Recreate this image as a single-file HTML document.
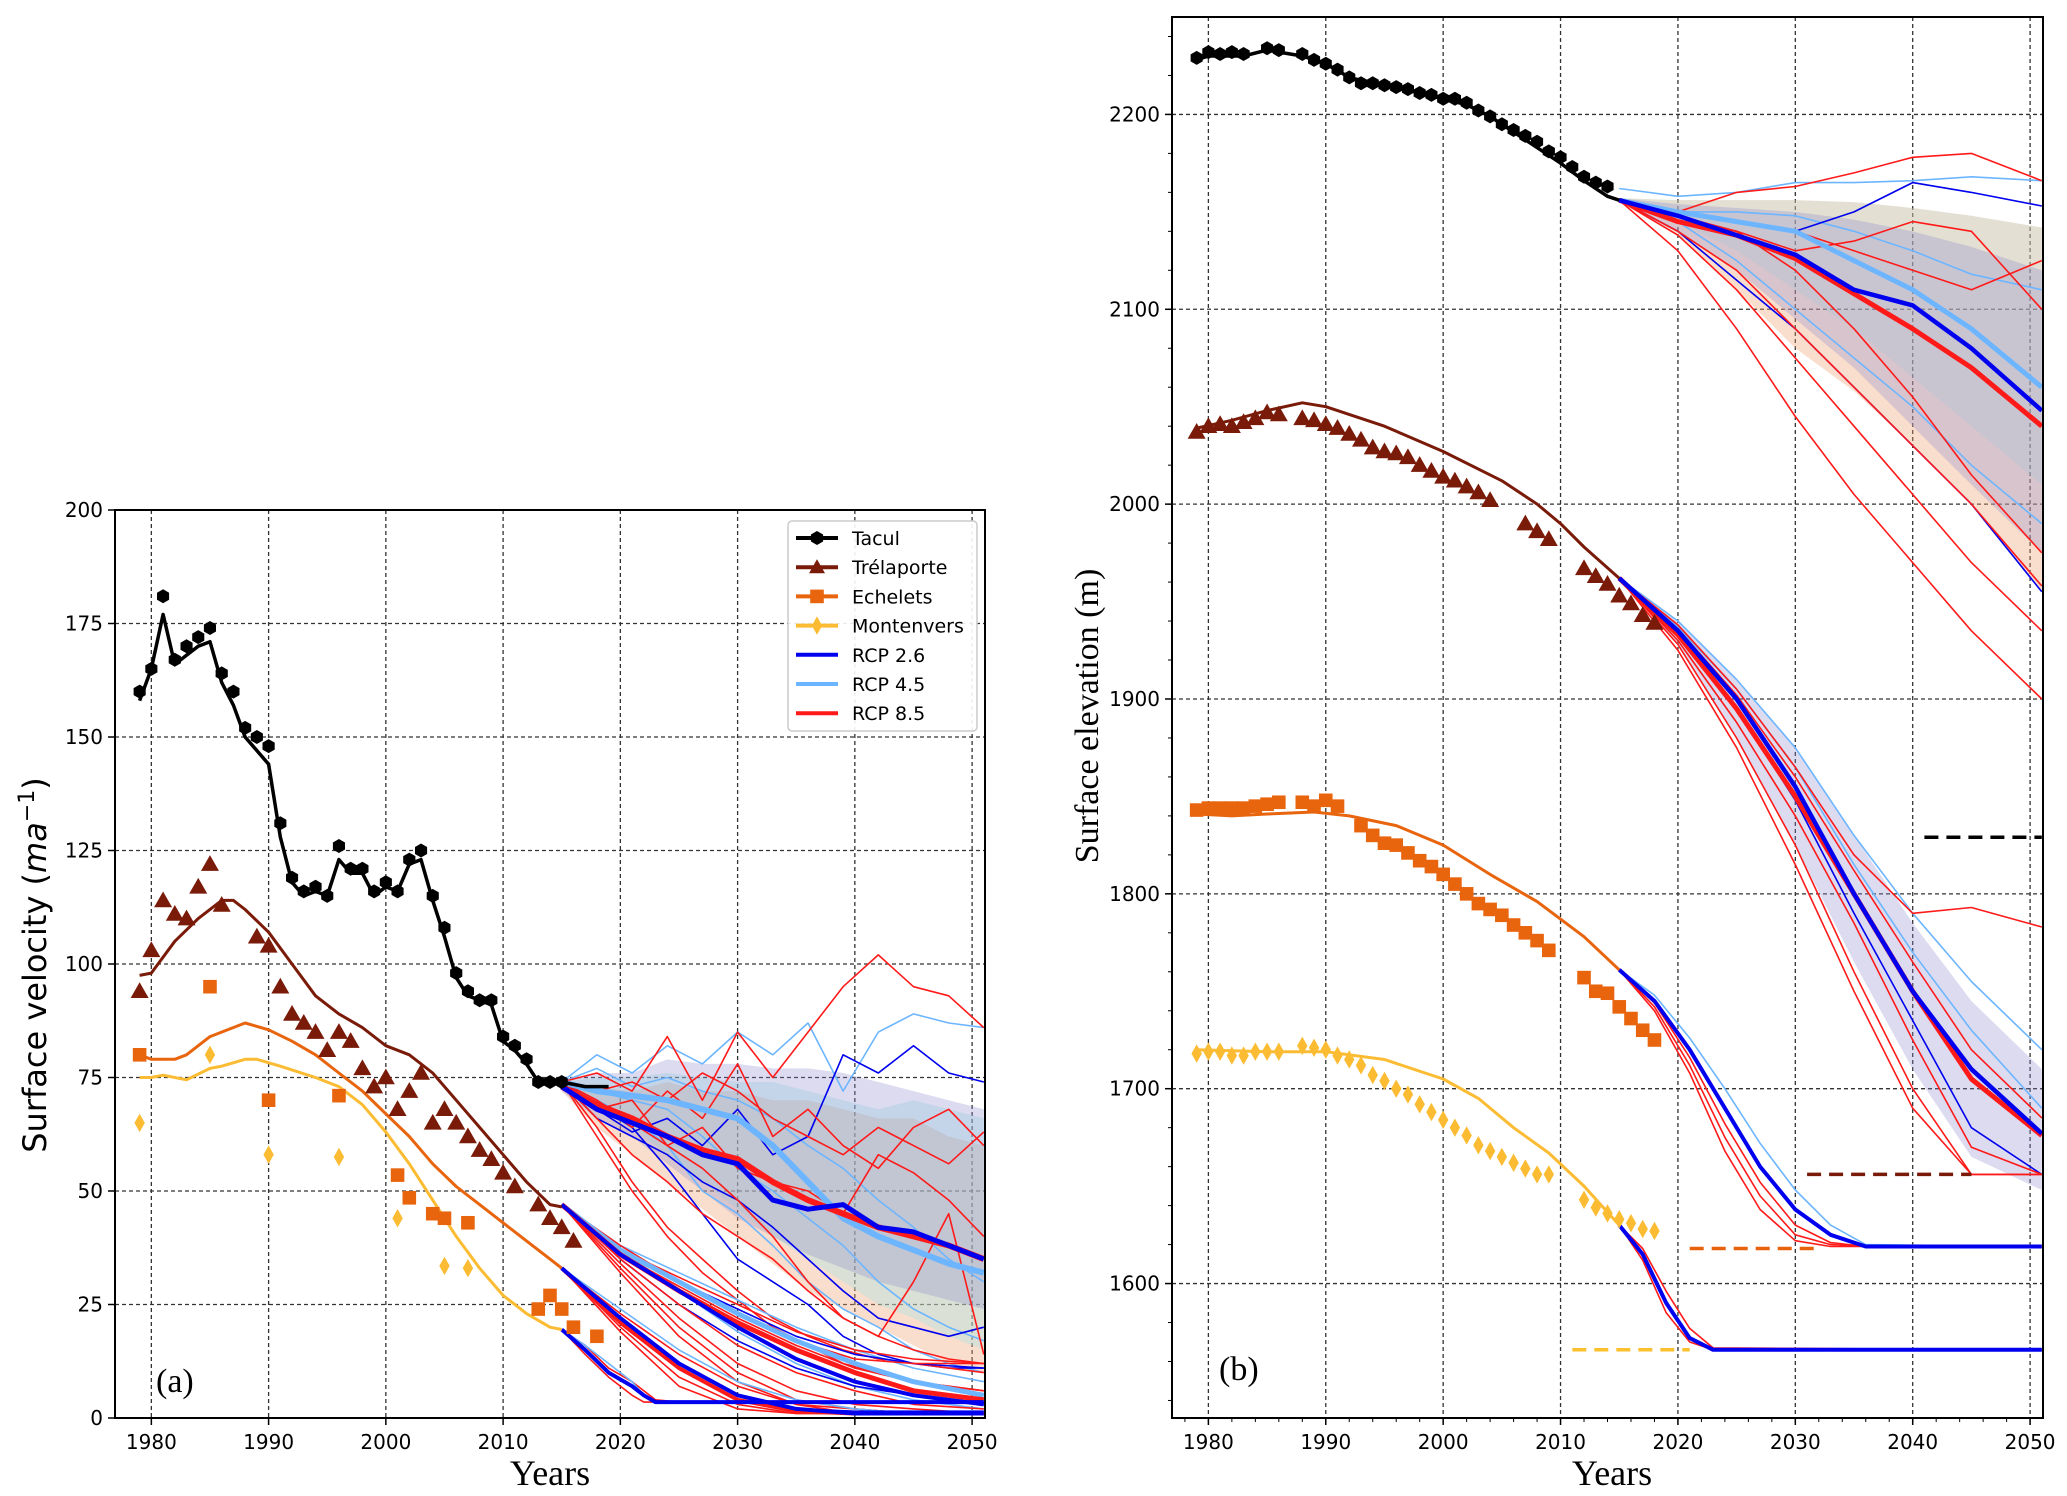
<!DOCTYPE html>
<html><head><meta charset="utf-8"><style>
body{margin:0;background:#fff}
svg{display:block}
text{font-family:"DejaVu Sans","Liberation Sans",sans-serif}
text.serif{font-family:"Liberation Serif","DejaVu Serif",serif}
</style></head><body>
<svg id="fig" width="2067" height="1496" viewBox="0 0 2067 1496" xmlns="http://www.w3.org/2000/svg">
<rect width="2067" height="1496" fill="#fff"/>
<g id="pa"></g>
<g id="pb"></g>
</svg>
<script>
// ---------- Panel A data (surface velocity, m/a) ----------
const xTicks=[1980,1990,2000,2010,2020,2030,2040,2050];
const aYTicks=[0,25,50,75,100,125,150,175,200];
const bYTicks=[1600,1700,1800,1900,2000,2100,2200];

const tacObsYearsA=[1979,1980,1981,1982,1983,1984,1985,1986,1987,1988,1989,1990,1991,1992,1993,1994,1995,1996,1997,1998,1999,2000,2001,2002,2003,2004,2005,2006,2007,2008,2009,2010,2011,2012,2013,2014,2015];
const tacObsA=[160,165,181,167,170,172,174,164,160,152,150,148,131,119,116,117,115,126,121,121,116,118,116,123,125,115,108,98,94,92,92,84,82,79,74,74,74];
const tacModYearsA=[1979,1980,1981,1982,1983,1984,1985,1986,1987,1988,1989,1990,1991,1992,1993,1994,1995,1996,1997,1998,1999,2000,2001,2002,2003,2004,2005,2006,2007,2008,2009,2010,2011,2012,2013,2014,2015,2017,2019];
const tacModA=[158,165,177,166,168,170,171,162,157,150,147,144,128,118,115,116,115,123,120,120,115,117,116,122,123,114,106,97,93,92,91,83,81,78,74,74,74,73,73];
const treObsYearsA=[1979,1980,1981,1982,1983,1984,1985,1986,1989,1990,1991,1992,1993,1994,1995,1996,1997,1998,1999,2000,2001,2002,2003,2004,2005,2006,2007,2008,2009,2010,2011,2013,2014,2015,2016];
const treObsA=[94,103,114,111,110,117,122,113,106,104,95,89,87,85,81,85,83,77,73,75,68,72,76,65,68,65,62,59,57,54,51,47,44,42,39];
const treModYearsA=[1979,1980,1982,1984,1986,1987,1988,1990,1992,1994,1996,1998,2000,2002,2004,2006,2008,2010,2012,2014,2015];
const treModA=[97.5,98,105,110,114,114,112,107,100,93,89,86,82,80,76,70,64,58,52,47,46.5];
const echObsYearsA=[1979,1985,1990,1996,2001,2002,2004,2005,2007,2013,2014,2015,2016,2018];
const echObsA=[80,95,70,71,53.5,48.5,45,44,43,24,27,24,20,18];
const echModYearsA=[1979,1980,1982,1983,1985,1988,1990,1992,1994,1996,1998,2000,2002,2004,2006,2008,2010,2012,2014,2015];
const echModA=[80,79,79,80,84,87,85.5,83,80,76,72,67,62,56,51,47,43,39,35,33];
const monObsYearsA=[1979,1985,1990,1996,2001,2005,2007];
const monObsA=[65,80,58,57.5,44,33.5,33];
const monModYearsA=[1979,1980,1981,1983,1985,1986,1988,1989,1991,1994,1996,1998,2000,2002,2004,2006,2008,2010,2012,2014,2015];
const monModA=[75,75,75.5,74.5,77,77.5,79,79,77.5,75,73,69,63,56,48,40,33,27,23,20,19.5];

// projections panel A
const T3=[2015,2018,2021,2024,2027,2030,2033,2036,2039,2042,2045,2048,2051];
const tacA26=[73,68,65,62,58,56,48,46,47,42,41,38,35];
const tacA45=[74,72,71,70,68,66,60,52,44,40,37,34,32];
const tacA85=[73,69,66,62,59,57,52,48,45,42,40,38,35];
const tacA26Hi=[74,76,76,79,78,78,77,77,76,74,72,70,68];
const tacA26Lo=[72,66,62,56,50,44,40,36,33,30,28,26,24];
const tacA85Hi=[74,73,72,74,72,72,70,70,68,66,66,62,60];
const tacA85Lo=[72,64,58,52,46,40,34,28,24,20,16,12,10];
const tacA45Hi=[74,75,75,76,75,74,74,72,70,68,70,68,66];
const tacA45Lo=[73,68,64,58,52,46,40,35,30,25,22,18,15];
const tacAMem=[
 ['lb',[74,80,76,82,78,85,80,87,72,85,89,87,86]],
 ['lb',[74,77,73,75,72,70,66,60,55,48,42,35,30]],
 ['lb',[74,72,70,68,62,55,50,44,38,30,24,20,17]],
 ['lb',[74,70,66,60,50,45,38,30,24,20,15,12,10]],
 ['b',[74,68,63,66,60,68,58,62,80,76,82,76,74]],
 ['b',[74,66,62,58,52,48,42,35,28,22,20,18,20]],
 ['b',[74,69,64,55,45,35,30,25,18,14,12,11,11]],
 ['r',[74,76,72,84,70,85,75,85,95,102,95,93,86]],
 ['r',[74,70,64,72,66,78,62,68,60,55,64,68,60]],
 ['r',[74,68,70,60,64,55,52,50,45,58,54,48,40]],
 ['r',[74,66,58,52,45,40,35,28,22,18,15,13,12]],
 ['r',[74,64,52,42,35,28,22,18,15,13,12,11,10]],
 ['r',[74,70,65,60,55,48,40,30,22,18,30,45,14]],
 ['r',[74,62,50,40,32,26,20,16,12,10,8,7,6]],
 ['r',[74,72,74,70,76,72,66,62,58,64,60,56,63]]
];
const Y5=[2015,2020,2025,2030,2035,2040,2045,2051];
const treA26=[47,36,28,20,13,8,5,3];
const treA45=[47,37,30,23,17,12,8,5];
const treA85=[47,36,28,21,15,10,6,4];
const treAMem=[
 ['lb',[47,38,32,26,20,15,11,8]],['lb',[47,37,28,19,12,7,4,2]],
 ['b',[47,35,25,17,11,7,5,3]],['b',[47,37,30,24,18,14,12,11]],
 ['r',[47,33,20,10,4,2,1,1]],['r',[47,35,25,16,10,6,3,2]],['r',[47,38,30,23,17,13,12,12]],
 ['r',[47,34,22,12,6,3,2,1]],['r',[47,36,29,22,16,11,8,6]],['r',[47,32,18,8,3,1,1,1]],['r',[47,37,31,25,19,15,13,12]]
];
const echA26=[33,22,12,5,2,1,1,1];
const echA85=[33,21,11,4,1.5,1,1,1];
const echAMem=[['r',[33,19,7,2,1,1,1,1]],['r',[33,23,14,7,3,2,1,1]],['lb',[33,24,15,8,4,2,1,1]],['b',[33,22,11,4,2,1.5,1.5,1.5]],['r',[33,20,9,3,1,1,1,1]]];
const monYearsP=[2015,2017,2019,2021,2022,2023,2025,2051];
const monA26=[19.5,15,10,7,5,3.5,3.5,3.5];
const monAMem=[['r',[19.5,14,9,5,3.5,3.5,3.5,3.5]],['r',[19.5,16,11,8,6,4,3.5,3.5]],['lb',[19.5,16,12,8,5,3.5,3.5,3.5]]];

// ---------- Panel B data (surface elevation, m) ----------
const tacObsYearsB=[1979,1980,1981,1982,1983,1985,1986,1988,1989,1990,1991,1992,1993,1994,1995,1996,1997,1998,1999,2000,2001,2002,2003,2004,2005,2006,2007,2008,2009,2010,2011,2012,2013,2014];
const tacObsB=[2229,2232,2231,2232,2231,2234,2233,2231,2228,2226,2223,2219,2216,2216,2215,2214,2213,2211,2210,2208,2208,2206,2202,2199,2195,2192,2189,2186,2181,2178,2173,2168,2165,2163];
const tacModYearsB=[1979,1980,1983,1985,1986,1988,1990,1992,1994,1996,1998,2000,2002,2004,2006,2008,2010,2012,2014,2015];
const tacModB=[2228,2230,2230,2233,2232,2230,2226,2219,2216,2214,2211,2208,2205,2199,2191,2183,2175,2166,2158,2156];
const treObsYearsB=[1979,1980,1981,1982,1983,1984,1985,1986,1988,1989,1990,1991,1992,1993,1994,1995,1996,1997,1998,1999,2000,2001,2002,2003,2004,2007,2008,2009,2012,2013,2014,2015,2016,2017,2018];
const treObsB=[2037,2040,2041,2040,2042,2044,2047,2046,2044,2043,2041,2039,2036,2033,2029,2027,2026,2024,2020,2017,2014,2012,2009,2006,2002,1990,1986,1982,1967,1963,1959,1953,1949,1943,1939];
const treModYearsB=[1979,1982,1985,1988,1990,1995,2000,2005,2008,2010,2012,2015];
const treModB=[2039,2043,2048,2052,2050,2040,2027,2012,2000,1990,1978,1962];
const echObsYearsB=[1979,1980,1981,1982,1983,1984,1985,1986,1988,1989,1990,1991,1993,1994,1995,1996,1997,1998,1999,2000,2001,2002,2003,2004,2005,2006,2007,2008,2009,2012,2013,2014,2015,2016,2017,2018];
const echObsB=[1843,1844,1844,1844,1844,1845,1846,1847,1847,1845,1848,1845,1835,1830,1826,1825,1821,1817,1814,1810,1805,1800,1795,1792,1789,1784,1780,1776,1771,1757,1750,1749,1742,1736,1730,1725];
const echModYearsB=[1979,1982,1985,1989,1992,1996,2000,2004,2008,2012,2015];
const echModB=[1841,1840,1841,1842,1840,1835,1825,1810,1796,1778,1761];
const monObsYearsB=[1979,1980,1981,1982,1983,1984,1985,1986,1988,1989,1990,1991,1992,1993,1994,1995,1996,1997,1998,1999,2000,2001,2002,2003,2004,2005,2006,2007,2008,2009,2012,2013,2014,2015,2016,2017,2018];
const monObsB=[1718,1719,1719,1717,1717,1719,1719,1719,1722,1721,1720,1717,1715,1712,1707,1704,1700,1697,1692,1688,1684,1680,1676,1671,1668,1665,1662,1659,1656,1656,1643,1639,1636,1633,1631,1628,1627];
const monModYearsB=[1979,1985,1990,1995,2000,2003,2006,2009,2012,2015];
const monModB=[1720,1719,1719,1715,1705,1695,1680,1667,1650,1630];

const tacB26=[2156,2148,2138,2128,2110,2102,2080,2048];
const tacB45=[2156,2150,2145,2140,2125,2110,2090,2060];
const tacB85=[2156,2145,2138,2126,2108,2090,2070,2040];
const tacBHi=[2157,2156,2156,2156,2155,2152,2148,2142];
const tacBLo=[2155,2138,2110,2080,2058,2030,2000,1955];
const tacB26Hi=[2157,2154,2152,2150,2146,2140,2132,2120];
const tacB26Lo=[2155,2140,2120,2095,2070,2040,2010,1975];
const tacB45Lo=[2156,2145,2130,2110,2090,2065,2040,2010];
const tacBMem=[
 ['lb',[2162,2158,2160,2165,2165,2166,2168,2166]],['lb',[2156,2145,2125,2100,2075,2050,2020,1990]],['lb',[2156,2150,2150,2148,2140,2130,2118,2110]],
 ['b',[2156,2150,2145,2140,2150,2165,2160,2153]],['b',[2156,2140,2115,2090,2060,2030,2000,1955]],
 ['r',[2156,2150,2160,2163,2170,2178,2180,2166]],['r',[2156,2140,2120,2090,2060,2030,2000,1958]],['r',[2156,2130,2090,2045,2005,1970,1935,1900]],
 ['r',[2156,2145,2140,2130,2135,2145,2140,2100]],['r',[2156,2148,2140,2120,2090,2055,2015,1975]],['r',[2156,2150,2145,2140,2130,2120,2110,2125]],['r',[2156,2138,2110,2075,2040,2005,1970,1935]]
];
const treB26=[1962,1935,1900,1855,1800,1750,1710,1677];
const treB85=[1962,1933,1895,1850,1800,1750,1705,1676];
const treBHi=[1962,1940,1910,1875,1830,1785,1745,1710];
const treBLo=[1962,1928,1880,1825,1765,1710,1665,1648];
const treBMem=[
 ['lb',[1962,1940,1910,1875,1830,1790,1755,1720]],['lb',[1962,1937,1905,1865,1815,1770,1730,1690]],
 ['b',[1962,1933,1895,1848,1790,1735,1680,1656]],
 ['r',[1962,1928,1880,1825,1760,1700,1656,1656]],['r',[1962,1925,1875,1815,1750,1690,1656,1656]],['r',[1962,1938,1905,1865,1820,1790,1793,1783]],
 ['r',[1962,1936,1902,1860,1812,1765,1720,1685]],['r',[1962,1930,1888,1840,1785,1725,1670,1656]]
];
const echYearsP=[2015,2018,2021,2024,2027,2030,2033,2036,2051];
const echB26=[1761,1745,1720,1690,1660,1638,1625,1619,1619];
const echBMem=[['r',[1761,1742,1712,1675,1645,1625,1620,1619,1619]],['lb',[1761,1748,1726,1700,1672,1648,1630,1620,1619]],['r',[1761,1740,1708,1668,1638,1622,1619,1619,1619]],['r',[1761,1744,1716,1682,1652,1630,1621,1619,1619]]];
const monYearsPB=[2015,2017,2019,2021,2023,2051];
const monB26=[1630,1615,1590,1572,1566,1566];
const monBMem=[['r',[1630,1612,1585,1570,1566,1566]],['r',[1630,1618,1596,1577,1567,1566]]];
// dashed reference levels: [value, fromYear, toYear, colour]
const refLevels=[[1829,2041,2051,'#000'],[1656,2031,2045,'#7a1a08'],[1618,2021,2032,'#e8620e'],[1566,2011,2021,'#fbc02d']];

// ---------- drawing ----------
const NS='http://www.w3.org/2000/svg';
const COL={tac:'#000',tre:'#7a1a08',ech:'#e8650e',mon:'#fbbc33',b:'#0000ee',lb:'#6db6ff',r:'#ff1a1a'};
function el(p,t,a){const e=document.createElementNS(NS,t);for(const k in a)e.setAttribute(k,a[k]);p.appendChild(e);return e;}
function mk(L,T,R,B,x0,x1,y0,y1){return{L,T,R,B,sx:v=>L+(v-x0)/(x1-x0)*(R-L),sy:v=>B-(v-y0)/(y1-y0)*(B-T)};}
const A=mk(115,510,985,1418,1976.9,2051.1,0,200);
const Bp=mk(1172,17,2043,1418,1976.9,2051.1,1531,2250);

function line(g,ax,xs,ys,col,w,name,dash){
  const d=xs.map((x,i)=>(i?'L':'M')+ax.sx(x).toFixed(1)+','+ax.sy(ys[i]).toFixed(1)).join('');
  const p=el(g,'path',{d,fill:'none',stroke:col,'stroke-width':w,'stroke-linejoin':'round'});
  if(dash)p.setAttribute('stroke-dasharray',dash);
  
  
  return p;
}
function band(g,ax,xs,lo,hi,col,op,name){
  let d=xs.map((x,i)=>(i?'L':'M')+ax.sx(x)+','+ax.sy(hi[i])).join('');
  for(let i=xs.length-1;i>=0;i--)d+='L'+ax.sx(xs[i])+','+ax.sy(lo[i]);
  const p=el(g,'path',{d:d+'Z',fill:col,'fill-opacity':op,stroke:'none'});
  
  
}
function marker(g,type,x,y,col,s){
  let e;
  if(type==='hex'){const pts=[];for(let k=0;k<6;k++){const a=Math.PI/6+k*Math.PI/3;pts.push((x+s*Math.cos(a)).toFixed(1)+','+(y+s*Math.sin(a)).toFixed(1));}e=el(g,'polygon',{points:pts.join(' '),fill:col});}
  else if(type==='tri'){e=el(g,'polygon',{points:`${x},${y-s} ${x-s},${y+s*0.75} ${x+s},${y+s*0.75}`,fill:col});}
  else if(type==='sq'){e=el(g,'rect',{x:x-s*0.85,y:y-s*0.85,width:s*1.7,height:s*1.7,fill:col});}
  else {e=el(g,'polygon',{points:`${x},${y-s*1.15} ${x+s*0.65},${y} ${x},${y+s*1.15} ${x-s*0.65},${y}`,fill:col});}
  return e;
}
function obs(g,ax,xs,ys,type,col,s,name){
  xs.forEach((x,i)=>{const m=marker(g,type,ax.sx(x),ax.sy(ys[i]),col,s);
    
    });
}
function text(g,x,y,str,a){const t=el(g,'text',Object.assign({x,y},a));t.textContent=str;return t;}
function axesFrame(g,ax,yt,xt){
  el(g,'rect',{x:ax.L,y:ax.T,width:ax.R-ax.L,height:ax.B-ax.T,fill:'#fff'});
  const grid=el(g,'g',{});
  xt.forEach(v=>{const x=ax.sx(v);el(grid,'line',{x1:x,x2:x,y1:ax.T,y2:ax.B,stroke:'#333','stroke-width':1.3,'stroke-dasharray':'4,3'});});
  yt.forEach(v=>{const y=ax.sy(v);if(y<ax.B-1&&y>ax.T+1)el(grid,'line',{x1:ax.L,x2:ax.R,y1:y,y2:y,stroke:'#333','stroke-width':1.3,'stroke-dasharray':'4,3'});});
}
function axesDecor(g,ax,yt,xt,name){
  el(g,'rect',{x:ax.L,y:ax.T,width:ax.R-ax.L,height:ax.B-ax.T,fill:'none',stroke:'#000','stroke-width':2});
  const xg=el(g,'g',{});
  xt.forEach(v=>{const x=ax.sx(v);el(xg,'line',{x1:x,x2:x,y1:ax.B,y2:ax.B+7,stroke:'#000','stroke-width':1.5});
    const t=text(xg,x,ax.B+31,String(v),{'font-size':20,'text-anchor':'middle'});
    });
  const yg=el(g,'g',{});
  yt.forEach(v=>{const y=ax.sy(v);el(yg,'line',{x1:ax.L-7,x2:ax.L,y1:y,y2:y,stroke:'#000','stroke-width':1.5});
    const t=text(yg,ax.L-12,y+7,String(v),{'font-size':20,'text-anchor':'end'});
    });
}
function members(g,ax,xs,mem,name){mem.forEach(m=>line(g,ax,xs,m[1],COL[m[0]],1.6,name));}

// ---- panel A ----
const ga=document.getElementById('pa');
axesFrame(ga,A,aYTicks,xTicks);
band(ga,A,T3,tacA85Lo,tacA85Hi,'#f0a070',0.35,'rcp85-band');
band(ga,A,T3,tacA45Lo,tacA45Hi,'#9ee6e6',0.35,'rcp45-band');
band(ga,A,T3,tacA26Lo,tacA26Hi,'#8a88cc',0.3,'rcp26-band');
members(ga,A,T3,tacAMem,'tacul-ensemble-member');
members(ga,A,Y5,treAMem,'trelaporte-ensemble-member');
members(ga,A,Y5,echAMem,'echelets-ensemble-member');
members(ga,A,monYearsP,monAMem,'montenvers-ensemble-member');
line(ga,A,T3,tacA45,COL.lb,6,'tacul-rcp45-mean');
line(ga,A,T3,tacA85,COL.r,6,'tacul-rcp85-mean');
line(ga,A,T3,tacA26,COL.b,5,'tacul-rcp26-mean');
line(ga,A,Y5,treA45,COL.lb,5,'trelaporte-rcp45-mean');
line(ga,A,Y5,treA85,COL.r,5,'trelaporte-rcp85-mean');
line(ga,A,Y5,treA26,COL.b,4,'trelaporte-rcp26-mean');
line(ga,A,Y5,echA85,COL.r,4,'echelets-rcp85-mean');
line(ga,A,Y5,echA26,COL.b,4,'echelets-rcp26-mean');
line(ga,A,monYearsP,monA26,COL.b,4,'montenvers-rcp26-mean');
line(ga,A,tacModYearsA,tacModA,COL.tac,3.5,'tacul-model');
line(ga,A,treModYearsA,treModA,COL.tre,3,'trelaporte-model');
line(ga,A,echModYearsA,echModA,COL.ech,3,'echelets-model');
line(ga,A,monModYearsA,monModA,COL.mon,3,'montenvers-model');
obs(ga,A,tacObsYearsA,tacObsA,'hex',COL.tac,7,'tacul-observation');
obs(ga,A,treObsYearsA,treObsA,'tri',COL.tre,9,'trelaporte-observation');
obs(ga,A,echObsYearsA,echObsA,'sq',COL.ech,8,'echelets-observation');
obs(ga,A,monObsYearsA,monObsA,'dia',COL.mon,8,'montenvers-observation');
axesDecor(ga,A,aYTicks,xTicks,'panel-a');
// legend
const lg=el(ga,'g',{});
el(lg,'rect',{x:788,y:521,width:189,height:210,rx:4,fill:'#fff','fill-opacity':0.9,stroke:'#ccc','stroke-width':1.5});
const legItems=[['Tacul',COL.tac,'hex'],['Trélaporte',COL.tre,'tri'],['Echelets',COL.ech,'sq'],['Montenvers',COL.mon,'dia'],['RCP 2.6',COL.b,null],['RCP 4.5',COL.lb,null],['RCP 8.5',COL.r,null]];
legItems.forEach((it,i)=>{const y=538+i*29.2;
  const row=el(lg,'g',{});
  
  
  el(row,'line',{x1:796,x2:838,y1:y,y2:y,stroke:it[1],'stroke-width':4});
  if(it[2])marker(row,it[2],817,y,it[1],it[2]==='hex'?7:8);
  text(row,852,y+7,it[0],{'font-size':19});});
const la=text(ga,156,1392,'(a)',{'font-size':34,'class':'serif'});

const xa=text(ga,550,1485,'Years',{'font-size':36,'text-anchor':'middle','class':'serif'});

const ya=el(ga,'text',{x:0,y:0,'font-size':32,'text-anchor':'middle',transform:'translate(46,965) rotate(-90)'});

ya.innerHTML='Surface velocity (<tspan font-style="italic">ma</tspan><tspan dy="-12" font-size="22">−1</tspan><tspan dy="12">)</tspan>';

// ---- panel B ----
const gb=document.getElementById('pb');
axesFrame(gb,Bp,bYTicks,xTicks);
band(gb,Bp,Y5,tacBLo,tacBHi,'#f0a070',0.35,'rcp85-band');
band(gb,Bp,Y5,tacB45Lo,tacBHi,'#9ee6e6',0.25,'rcp45-band');
band(gb,Bp,Y5,tacB26Lo,tacB26Hi,'#8a88cc',0.3,'rcp26-band');
band(gb,Bp,Y5,treBLo,treBHi,'#8a88cc',0.3,'trelaporte-band');
members(gb,Bp,Y5,tacBMem,'tacul-ensemble-member');
members(gb,Bp,Y5,treBMem,'trelaporte-ensemble-member');
members(gb,Bp,echYearsP,echBMem,'echelets-ensemble-member');
members(gb,Bp,monYearsPB,monBMem,'montenvers-ensemble-member');
line(gb,Bp,Y5,tacB45,COL.lb,5,'tacul-rcp45-mean');
line(gb,Bp,Y5,tacB85,COL.r,5,'tacul-rcp85-mean');
line(gb,Bp,Y5,tacB26,COL.b,4.5,'tacul-rcp26-mean');
line(gb,Bp,Y5,treB85,COL.r,5,'trelaporte-rcp85-mean');
line(gb,Bp,Y5,treB26,COL.b,4.5,'trelaporte-rcp26-mean');
line(gb,Bp,echYearsP,echB26,COL.b,4,'echelets-rcp26-mean');
line(gb,Bp,monYearsPB,monB26,COL.b,4,'montenvers-rcp26-mean');
refLevels.forEach(r=>line(gb,Bp,[r[1],r[2]],[r[0],r[0]],r[3],3.5,'reference-level','14,8'));
line(gb,Bp,tacModYearsB,tacModB,COL.tac,3.5,'tacul-model');
line(gb,Bp,treModYearsB,treModB,COL.tre,3,'trelaporte-model');
line(gb,Bp,echModYearsB,echModB,COL.ech,3,'echelets-model');
line(gb,Bp,monModYearsB,monModB,COL.mon,3,'montenvers-model');
obs(gb,Bp,tacObsYearsB,tacObsB,'hex',COL.tac,7,'tacul-observation');
obs(gb,Bp,treObsYearsB,treObsB,'tri',COL.tre,9,'trelaporte-observation');
obs(gb,Bp,echObsYearsB,echObsB,'sq',COL.ech,8,'echelets-observation');
obs(gb,Bp,monObsYearsB,monObsB,'dia',COL.mon,8,'montenvers-observation');
axesDecor(gb,Bp,bYTicks,xTicks,'panel-b');
for(let v=1540;v<=2240;v+=20){const y=Bp.sy(v);el(gb,'line',{x1:Bp.L-4,x2:Bp.L,y1:y,y2:y,stroke:'#000','stroke-width':1});}
for(let v=1978;v<=2050;v+=2){const x=Bp.sx(v);el(gb,'line',{x1:x,x2:x,y1:Bp.B,y2:Bp.B+4,stroke:'#000','stroke-width':1});}
const lb2=text(gb,1219,1380,'(b)',{'font-size':34,'class':'serif'});

const xb=text(gb,1612,1485,'Years',{'font-size':36,'text-anchor':'middle','class':'serif'});

const yb=el(gb,'text',{x:0,y:0,'font-size':34,'text-anchor':'middle','class':'serif',transform:'translate(1098,716) rotate(-90)'});

yb.textContent='Surface elevation (m)';
</script>
</body></html>
